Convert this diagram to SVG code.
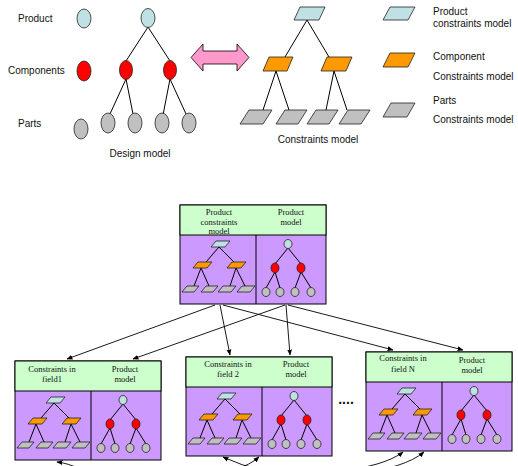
<svg xmlns="http://www.w3.org/2000/svg" xmlns:xlink="http://www.w3.org/1999/xlink" width="518" height="466" viewBox="0 0 518 466">
<style>
.lbl{font-family:"Liberation Sans",Arial,sans-serif;font-size:10px;fill:#111}
.hd{font-family:"Liberation Serif","Times New Roman",serif;font-size:8.5px;fill:#111;text-anchor:middle}
.ln{stroke:#000;stroke-width:1;fill:none}
.blue{fill:#bfe1e3;stroke:#222;stroke-width:0.8}
.red{fill:#ff0000;stroke:#222;stroke-width:0.8}
.gray{fill:#c0c0c0;stroke:#222;stroke-width:0.8}
.orange{fill:#ff9900;stroke:#222;stroke-width:0.8}
.con{stroke:#000;stroke-width:0.9;fill:none;marker-end:url(#ah)}
</style>
<defs>
<marker id="ah" viewBox="0 0 10 10" refX="9" refY="5" markerWidth="6" markerHeight="6" orient="auto" markerUnits="userSpaceOnUse">
<path d="M0,1 L10,5 L0,9 Z" fill="#000"/>
</marker>
<g id="body">
<rect x="0" y="0" width="146" height="99" fill="#cc99ff" stroke="#000" stroke-width="1"/>
<rect x="0" y="0" width="146" height="30" fill="#ccffcc" stroke="#000" stroke-width="1"/>
<line x1="76" y1="30" x2="76" y2="99" stroke="#000" stroke-width="1"/>
<path class="ln" d="M39,42 L26,57 M39,42 L54,57 M21,63 L14,81 M21,63 L29,81 M56,63 L50,81 M56,63 L65,81"/>
<polygon class="blue" points="36,36 50,36 45,42 31,42"/>
<polygon class="orange" points="18,57 32,57 27,63 13,63"/>
<polygon class="orange" points="52,57 66,57 61,63 47,63"/>
<polygon class="gray" points="7,81 19,81 14,87 2,87"/>
<polygon class="gray" points="26,81 38,81 33,87 21,87"/>
<polygon class="gray" points="43,81 56,81 51,87 38,87"/>
<polygon class="gray" points="62,81 75,81 70,87 57,87"/>
<path class="ln" d="M108,43 L95,59 M108,43 L121,59 M95,67 L86,83 M95,67 L100,83 M121,67 L115,83 M121,67 L131,83"/>
<ellipse class="blue" cx="108" cy="39" rx="4" ry="4.5"/>
<ellipse class="red" cx="95" cy="63" rx="4" ry="5"/>
<ellipse class="red" cx="121" cy="63" rx="4" ry="5"/>
<ellipse class="gray" cx="86" cy="87" rx="4" ry="4.5"/>
<ellipse class="gray" cx="100" cy="87" rx="4" ry="4.5"/>
<ellipse class="gray" cx="115" cy="87" rx="4" ry="4.5"/>
<ellipse class="gray" cx="131" cy="87" rx="4" ry="4.5"/>
</g>
</defs>

<g id="legend-left">
<text class="lbl" x="18" y="21.5">Product</text>
<text class="lbl" x="8" y="73.5">Components</text>
<text class="lbl" x="18" y="126.5">Parts</text>
<ellipse class="blue" cx="84" cy="18.5" rx="7" ry="9.5"/>
<ellipse class="red" cx="84" cy="71" rx="7" ry="10"/>
<ellipse class="gray" cx="81" cy="129" rx="7" ry="10"/>
</g>

<g id="design-model">
<path class="ln" d="M148,27 L126,61 M148,27 L170,61 M126,79 L110,114 M126,79 L133,114 M170,79 L163,115 M170,79 L186,114"/>
<ellipse class="blue" cx="148" cy="18" rx="7" ry="9.5"/>
<ellipse class="red" cx="126" cy="70" rx="6.5" ry="9.5"/>
<ellipse class="red" cx="170" cy="70" rx="6.5" ry="9.5"/>
<ellipse class="gray" cx="108" cy="123" rx="7" ry="10"/>
<ellipse class="gray" cx="135" cy="123" rx="7" ry="10"/>
<ellipse class="gray" cx="162" cy="123" rx="7" ry="10"/>
<ellipse class="gray" cx="189" cy="123" rx="7" ry="10"/>
<text class="lbl" x="140" y="157" text-anchor="middle">Design model</text>
</g>

<g id="double-arrow">
<polygon points="191,57.5 203,44 203,51 237,51 237,44 249,57.5 237,71 237,64 203,64 203,71" fill="#ff99cc" stroke="#000" stroke-width="0.8"/>
</g>

<g id="constraints-model">
<path class="ln" d="M307,20 L285,57 M307,20 L329,57 M276,71 L263,110 M276,71 L289,110 M334,71 L326,110 M334,71 L347,110"/>
<polygon class="blue" points="300,7 325,7 319,20 294,20"/>
<polygon class="orange" points="269,57 293,57 287,71 263,71"/>
<polygon class="orange" points="327,57 352,57 346,71 321,71"/>
<polygon class="gray" points="249,110 272,110 263,124 240,124"/>
<polygon class="gray" points="285,110 307,110 298,124 276,124"/>
<polygon class="gray" points="316,110 338,110 329,124 307,124"/>
<polygon class="gray" points="348,110 370,110 361,124 339,124"/>
<text class="lbl" x="318" y="142.5" text-anchor="middle">Constraints model</text>
</g>

<g id="legend-right">
<polygon class="blue" points="390,7 415,7 408,20 383,20"/>
<polygon class="orange" points="390,53 415,53 408,67 383,67"/>
<polygon class="gray" points="391,103 415,103 407,117 383,117"/>
<text class="lbl" x="433" y="14.5">Product</text>
<text class="lbl" x="433" y="26.5">constraints model</text>
<text class="lbl" x="433" y="59.5">Component</text>
<text class="lbl" x="433" y="79.5">Constraints model</text>
<text class="lbl" x="433" y="103.5">Parts</text>
<text class="lbl" x="433" y="122.5">Constraints model</text>
</g>

<g id="top-box">
<use xlink:href="#body" href="#body" x="180" y="205"/>
<text class="hd" x="219" y="215">Product</text>
<text class="hd" x="219" y="225">constraints</text>
<text class="hd" x="219" y="234">model</text>
<text class="hd" x="291" y="215">Product</text>
<text class="hd" x="291" y="225">model</text>
</g>

<g id="box-field1">
<use xlink:href="#body" href="#body" x="15" y="361"/>
<text class="hd" x="52" y="372">Constraints in</text>
<text class="hd" x="52" y="382">field1</text>
<text class="hd" x="125" y="372">Product</text>
<text class="hd" x="125" y="382">model</text>
</g>

<g id="box-field2">
<use xlink:href="#body" href="#body" x="186" y="357"/>
<text class="hd" x="228" y="367">Constraints in</text>
<text class="hd" x="228" y="377">field 2</text>
<text class="hd" x="296" y="367">Product</text>
<text class="hd" x="296" y="377">model</text>
</g>

<g id="box-fieldN">
<use xlink:href="#body" href="#body" x="366" y="352"/>
<text class="hd" x="403" y="361">Constraints in</text>
<text class="hd" x="403" y="372">field N</text>
<text class="hd" x="472" y="363">Product</text>
<text class="hd" x="472" y="373">model</text>
</g>

<g id="ellipsis">
<text x="346" y="404" text-anchor="middle" style="font-family:'Liberation Sans',Arial,sans-serif;font-size:14px;font-weight:bold;fill:#111">....</text>
</g>

<g id="connectors">
<line class="con" x1="215" y1="305" x2="67" y2="359"/>
<line class="con" x1="285" y1="305" x2="133" y2="359"/>
<line class="con" x1="220" y1="305" x2="230" y2="355"/>
<line class="con" x1="286" y1="305" x2="290" y2="355"/>
<line class="con" x1="223" y1="305" x2="393" y2="350"/>
<line class="con" x1="288" y1="305" x2="463" y2="350"/>
<path class="con" d="M82,470 Q68,463 57,462"/>
<path class="con" d="M262,470 Q242,466 223,457"/>
<path class="con" d="M234,470 Q250,465 259,457"/>
<path class="con" d="M335,472 Q385,466 403,452"/>
<path class="con" d="M355,474 Q405,468 424,452"/>
</g>
</svg>
